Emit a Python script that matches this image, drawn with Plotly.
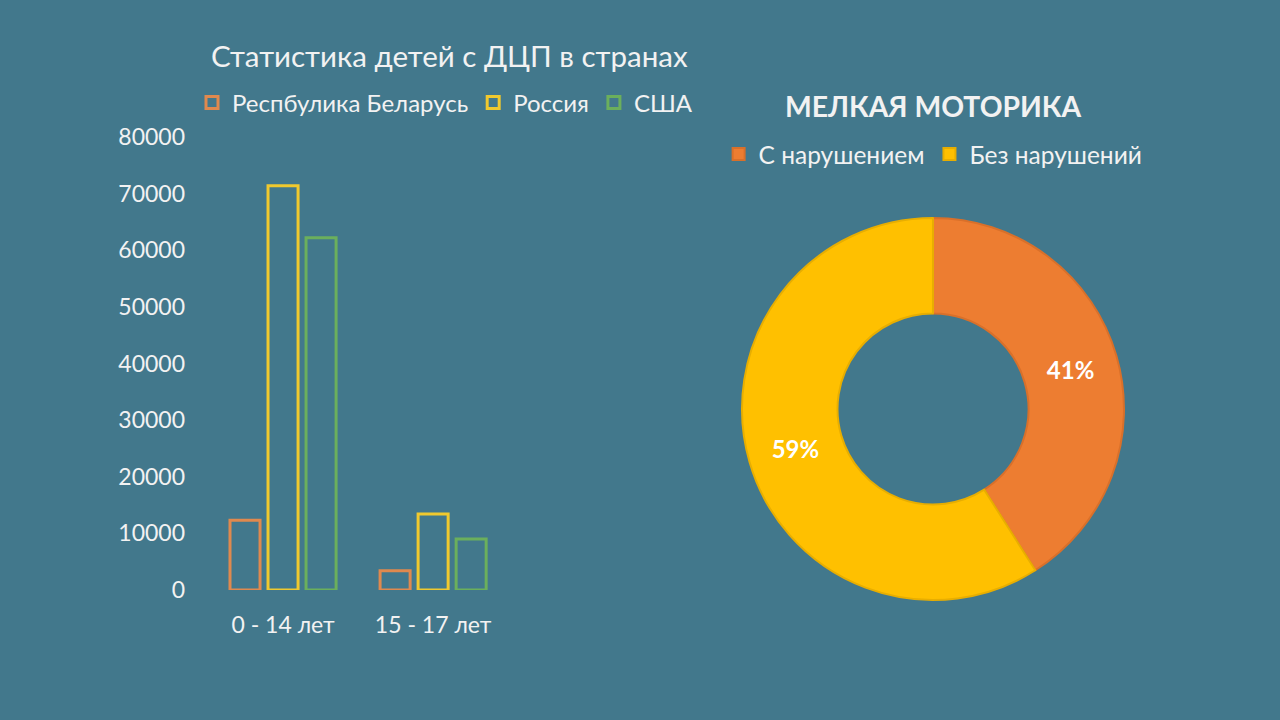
import plotly.graph_objects as go

categories = ["0 - 14 лет", "15 - 17 лет"]
belarus = [12300, 3400]
russia = [71400, 13400]
usa = [62200, 9000]
series_names = ["Респбулика Беларусь", "Россия", "США"]

pie_labels = ["С нарушением", "Без нарушений"]
pie_values = [41, 59]

BG = "#42788C"
TXT = "#F2F2F2"
FONT = "Lato, 'Open Sans', sans-serif"

fig = go.Figure()
bar_colors = ["#E0894E", "#F0C92E", "#6BAF5C"]
for name, vals, col in zip(series_names, [belarus, russia, usa], bar_colors):
    fig.add_trace(go.Bar(
        x=categories, y=vals, name=name,
        marker=dict(color="rgba(0,0,0,0)", line=dict(color=col, width=3)),
        legend="legend", hoverinfo="x+y+name",
    ))

fig.add_trace(go.Pie(
    labels=pie_labels, values=pie_values, hole=0.5, sort=False,
    direction="clockwise", rotation=0,
    marker=dict(colors=["#ED7D31", "#FFC000"],
                line=dict(color=["#D9702A", "#E8AE00"], width=2)),
    textinfo="percent", textposition="inside", insidetextorientation="horizontal",
    textfont=dict(color="#FFFFFF", size=24, family=FONT, weight="bold"),
    domain=dict(x=[0.5797, 0.8781], y=[0.1667, 0.6972]),
    legend="legend2",
))

fig.update_layout(
    width=1280, height=720,
    paper_bgcolor=BG, plot_bgcolor=BG,
    margin=dict(l=0, r=0, t=0, b=0, autoexpand=False),
    font=dict(family=FONT, color=TXT, size=24),
    barmode="group", bargap=0.24, bargroupgap=0.21,
    xaxis=dict(domain=[0.1625, 0.397], showgrid=False, zeroline=False, showline=False,
               automargin=False,
               tickfont=dict(size=23, color=TXT), ticks="", ticklabelstandoff=19),
    yaxis=dict(domain=[0.1806, 0.8097], range=[0, 80000], dtick=10000, tickformat="d",
               showgrid=False, zeroline=False, showline=False, automargin=False,
               tickfont=dict(size=23, color=TXT), ticks="", ticklabelstandoff=22),
    legend=dict(orientation="h", x=0.150, y=0.857, xanchor="left", yanchor="middle",
                font=dict(size=24, color=TXT), bgcolor="rgba(0,0,0,0)"),
    legend2=dict(orientation="h", x=0.729, y=0.786, xanchor="center", yanchor="middle",
                 font=dict(size=24.5, color=TXT), bgcolor="rgba(0,0,0,0)"),
    showlegend=True,
    annotations=[
        dict(text="Статистика детей с ДЦП в странах", x=0.351, y=0.923, xref="paper", yref="paper",
             showarrow=False, font=dict(size=29.5, color=TXT), xanchor="center", yanchor="middle"),
        dict(text="<b>МЕЛКАЯ МОТОРИКА</b>", x=0.729, y=0.853, xref="paper", yref="paper",
             showarrow=False, font=dict(size=28.3, color=TXT), xanchor="center", yanchor="middle"),
    ],
)

fig.write_html("out.html", config={"displayModeBar": False},
               post_script="document.body.style.margin='0px';")
